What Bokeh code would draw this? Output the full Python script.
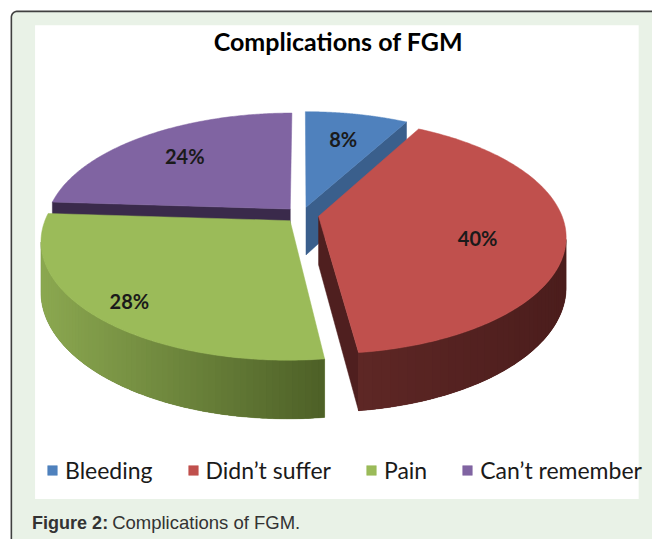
import numpy as np
from bokeh.plotting import figure
from bokeh.models import Legend, LegendItem
from bokeh.core.properties import value
from bokeh.embed import file_html
from bokeh.resources import INLINE

# ---------------- data ----------------
categories = ["Bleeding", "Didn\u2019t suffer", "Pain", "Can\u2019t remember"]
percent = [8, 40, 28, 24]

title_text = "Complications of FGM"
caption_bold = "Figure 2:"
caption_rest = "Complications of FGM."

# ---------------- styles ----------------
top_colors = ["#4f81bd", "#c0504d", "#9bbb59", "#8064a2"]
cut_colors = ["#3a5f8c", "#4f1f1f", "#4f6228", "#3a2a4b"]
wall_left = ["#4f81bd", "#5e2725", "#8ba850", "#8064a2"]
wall_right = ["#385d8a", "#4b1d1c", "#4d6027", "#3a2a4b"]
label_r = [0.70, 0.65, 0.85, 0.70]
label_dy = [0, 8, 0, 0]


def mix(c1, c2, t):
    a = [int(c1[j:j + 2], 16) for j in (1, 3, 5)]
    b = [int(c2[j:j + 2], 16) for j in (1, 3, 5)]
    return "#%02x%02x%02x" % tuple(int(round(a[q] + (b[q] - a[q]) * t)) for q in range(3))


p = figure(width=652, height=539, x_range=(0, 660), y_range=(547, 0),
           x_axis_location=None, y_axis_location=None,
           output_backend="svg", toolbar_location=None, min_border=0)
p.grid.visible = False
p.outline_line_color = None
p.background_fill_color = "white"
p.border_fill_color = "white"

# outer framed panel with rounded corner
rr = 6
t = np.linspace(np.pi, 1.5 * np.pi, 16)
fx = [11] + list(17 + rr * np.cos(t)) + [700, 700]
fy = [600] + list(17 + rr * np.sin(t)) + [11, 600]
p.patch(fx, fy, fill_color="#e9f2e7", line_color="#404040", line_width=1.6)
p.quad(left=[35], right=[646], top=[25], bottom=[506], fill_color="white", line_color=None)

# ---------------- 3D pie projection ----------------
cx, cy = 305.0, 217.5
ax_, by_, kp = 246.0, 115.6, 0.168
h0 = 49.0
expl = 0.07


def proj(X, Y):
    d = 1 + kp * Y
    return cx + ax_ * X / d, cy - by_ * Y / d


def depth(Y):
    return h0 / (1 + kp * Y)


vals = np.array(percent, float)
ang_end = np.cumsum(vals) / vals.sum() * 2 * np.pi
ang_start = ang_end - vals / vals.sum() * 2 * np.pi
mids = (ang_start + ang_end) / 2
order = np.argsort(-np.cos(mids))

top_r = {}
lab_x, lab_y, lab_t = [], [], []
for i in order:
    s, e_, m = ang_start[i], ang_end[i], mids[i]
    ox, oy = expl * np.sin(m), expl * np.cos(m)
    th = np.linspace(s, e_, 160)
    X = ox + np.sin(th)
    Y = oy + np.cos(th)
    sx, sy = proj(X, Y)
    ax0, ay0 = proj(ox, oy)

    # radial cut faces
    for edge_ang, normal in [(s, s - np.pi / 2), (e_, e_ + np.pi / 2)]:
        if np.cos(normal) < -0.02:
            Xr, Yr = ox + np.sin(edge_ang), oy + np.cos(edge_ang)
            rx_, ry_ = proj(Xr, Yr)
            p.patch([ax0, rx_, rx_, ax0],
                    [ay0, ry_, ry_ + depth(Yr), ay0 + depth(oy)],
                    fill_color=cut_colors[i], line_color=cut_colors[i], line_width=0.5)

    # outer wall (visible front part): base shape + overlapping gradient strips
    dx = np.gradient(sx)
    idx = np.where(dx < 0)[0]
    if len(idx) > 1:
        tx, ty, hy = sx[idx], sy[idx], depth(Y[idx])
        base_col = mix(wall_left[i], wall_right[i], 0.5)
        p.patch(list(tx) + list(tx[::-1]), list(ty) + list((ty + hy)[::-1]),
                fill_color=base_col, line_color=base_col, line_width=0.5)
        xs_l, ys_l, cols = [], [], []
        span = max(tx.max() - tx.min(), 1e-6)
        n = len(idx)
        step = 2
        for j in range(0, n - 1, step):
            j2 = min(j + 2 * step, n - 1)
            seg = slice(j, j2 + 1)
            qx = list(tx[seg]) + list(tx[seg][::-1])
            qy = list(ty[seg]) + list((ty[seg] + hy[seg])[::-1])
            xs_l.append(qx)
            ys_l.append(qy)
            frac = (0.5 * (tx[j] + tx[min(j + step, n - 1)]) - tx.min()) / span
            cols.append(mix(wall_left[i], wall_right[i], frac))
        p.patches(xs_l, ys_l, fill_color=cols, line_color=None)

    # top face
    top_r[i] = p.patch([ax0] + list(sx), [ay0] + list(sy), fill_color=top_colors[i],
                       line_color=top_colors[i], line_width=0.5)

    lx, ly = proj(ox + label_r[i] * np.sin(m), oy + label_r[i] * np.cos(m))
    lab_x.append(lx)
    lab_y.append(ly + label_dy[i])
    lab_t.append(f"{percent[i]}%")

p.text(x=lab_x, y=lab_y, text=lab_t, text_font=value("Lato"), text_font_style="bold",
       text_font_size="20px", text_align="center", text_baseline="middle", text_color="#1a1a1a")

# title
p.text(x=[342], y=[41], text=[title_text], text_font=value("Lato"), text_font_style="bold",
       text_font_size="25px", text_align="center", text_baseline="middle", text_color="#000000")

# legend
items = [LegendItem(label=categories[i], renderers=[top_r[i]]) for i in range(len(categories))]
legend = Legend(items=items, orientation="horizontal", location=(46, 55),
                glyph_width=12, glyph_height=12, label_standoff=7, spacing=34,
                padding=0, margin=0, border_line_color=None, background_fill_alpha=0,
                label_text_font="Lato", label_text_font_size="23px", label_text_color="#1a1a1a")
p.add_layout(legend)

# caption
p.text(x=[32], y=[530], text=[caption_bold], text_font=value("Liberation Sans"),
       text_font_style="bold", text_font_size="18px", text_align="left",
       text_baseline="middle", text_color="#333333")
p.text(x=[113], y=[530], text=[caption_rest], text_font=value("Liberation Sans"),
       text_font_size="18.5px", text_align="left", text_baseline="middle", text_color="#333333")

open("out.html", "w").write(file_html(p, INLINE))
